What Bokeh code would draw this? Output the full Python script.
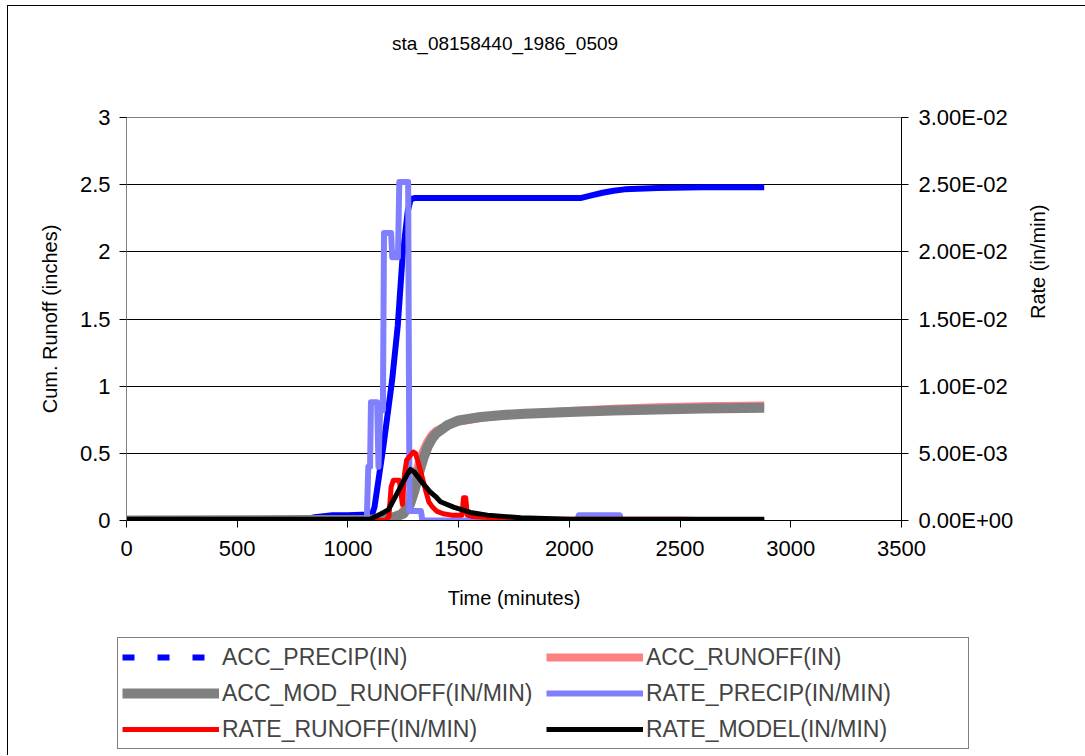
import math
from bokeh.plotting import figure
from bokeh.models import (Range1d, LinearAxis, FixedTicker, CustomJSTickFormatter,
                          Legend, LegendItem, Div)
from bokeh.embed import file_html
from bokeh.resources import INLINE

FONT = "Liberation Sans"

title_text = "sta_08158440_1986_0509"

# ---- axis ticks / labels ----
x_ticks = [0, 500, 1000, 1500, 2000, 2500, 3000, 3500]
left_ticks = [0, 0.5, 1, 1.5, 2, 2.5, 3]
left_labels = ["0", "0.5", "1", "1.5", "2", "2.5", "3"]
grid_ticks = [0.5, 1, 1.5, 2, 2.5]
right_ticks = [0, 0.005, 0.01, 0.015, 0.02, 0.025, 0.03]
right_labels = ["0.00E+00", "5.00E-03", "1.00E-02", "1.50E-02", "2.00E-02", "2.50E-02", "3.00E-02"]

# ---- series ----
t_acc_precip = [0, 400, 800, 850, 930, 1000, 1090, 1110, 1120, 1160, 1200, 1225, 1247,
                1270, 1283, 1300, 1500, 1800, 2050, 2100, 2150, 2200, 2250, 2400, 2600, 2880]
acc_precip = [0.0, 0.0, 0.005, 0.025, 0.04, 0.04, 0.045, 0.05, 0.1, 0.55, 1.05, 1.45, 1.97,
              2.3, 2.39, 2.40, 2.40, 2.40, 2.40, 2.42, 2.44, 2.455, 2.465, 2.475, 2.48, 2.48]

t_acc_runoff = [0, 1150, 1200, 1230, 1260, 1280, 1300, 1320, 1340, 1360, 1380, 1400, 1450,
                1500, 1600, 1700, 1800, 2000, 2200, 2400, 2600, 2880]
acc_runoff = [0.0, 0.0, 0.01, 0.03, 0.1, 0.2, 0.32, 0.43, 0.52, 0.59, 0.64, 0.67, 0.71,
              0.735, 0.765, 0.782, 0.795, 0.815, 0.832, 0.843, 0.851, 0.857]

t_acc_mod = [0, 1100, 1200, 1250, 1280, 1300, 1320, 1340, 1360, 1380, 1400, 1450, 1500,
             1600, 1700, 1800, 2000, 2200, 2400, 2600, 2880]
acc_mod_runoff = [0.0, 0.005, 0.02, 0.05, 0.12, 0.22, 0.35, 0.46, 0.55, 0.61, 0.65, 0.71, 0.745,
                  0.77, 0.785, 0.795, 0.808, 0.818, 0.826, 0.833, 0.84]

t_rate_precip = [0, 1085, 1092, 1100, 1104, 1132, 1138, 1145, 1158, 1163, 1195, 1200, 1226,
                 1232, 1272, 1278, 1330, 1336, 2038, 2042, 2228, 2232, 2880]
rate_precip = [0, 0, 0.004, 0.004, 0.0088, 0.0088, 0.004, 0.0082, 0.0082, 0.0214, 0.0214,
               0.0196, 0.0196, 0.0252, 0.0252, 0.0007, 0.0007, 0, 0, 0.0004, 0.0004, 0, 0]

t_rate_runoff = [0, 1170, 1185, 1195, 1205, 1232, 1246, 1256, 1265, 1280, 1295, 1305, 1318,
                 1328, 1350, 1365, 1382, 1400, 1430, 1470, 1515, 1522, 1532, 1539, 1560, 1650,
                 1750, 2000, 2500, 2880]
rate_runoff = [0, 0, 0.0003, 0.0025, 0.003, 0.003, 0.0012, 0.0035, 0.0045, 0.0048, 0.0051,
               0.005, 0.0043, 0.0037, 0.0023, 0.0014, 0.001, 0.0007, 0.0005, 0.0004, 0.0004,
               0.0017, 0.0017, 0.0004, 0.0003, 0.0002, 0.0001, 0.0001, 0.0001, 0.0]

t_rate_model = [0, 1100, 1125, 1150, 1183, 1215, 1247, 1270, 1283, 1300, 1337, 1373, 1395,
                1418, 1477, 1553, 1630, 1780, 2000, 2500, 2880]
rate_model = [0.0001, 0.0001, 0.0003, 0.0005, 0.0008, 0.0018, 0.0028, 0.0035, 0.0038, 0.0036,
              0.0028, 0.0021, 0.0018, 0.0014, 0.001, 0.0006, 0.0004, 0.0002, 0.0001, 0.0001,
              0.0001]

labels = ["ACC_PRECIP(IN)", "ACC_RUNOFF(IN)", "ACC_MOD_RUNOFF(IN/MIN)",
          "RATE_PRECIP(IN/MIN)", "RATE_RUNOFF(IN/MIN)", "RATE_MODEL(IN/MIN)"]
colors = ["#0000FF", "#FF8080", "#808080", "#8080FF", "#FF0000", "#000000"]
widths = [6, 8, 10, 6, 5, 5]

series = [(t_acc_precip, acc_precip, "default"),
          (t_acc_runoff, acc_runoff, "default"),
          (t_acc_mod, acc_mod_runoff, "default"),
          (t_rate_precip, rate_precip, "rate"),
          (t_rate_runoff, rate_runoff, "rate"),
          (t_rate_model, rate_model, "rate")]

# ---- title block ----
title_div = Div(
    text=('<div style="padding-top:24px;padding-left:384px;font-family:\'Liberation Sans\';'
          'font-size:19px;color:black;white-space:nowrap;">' + title_text + '</div>'),
    width=1078, height=92, margin=(5, 0, 0, 7),
    styles={"border-left": "1px solid black", "border-top": "1px solid black",
            "background-color": "white"})

# ---- main figure ----
p = figure(width=1078, height=532, output_backend="svg", toolbar_location=None,
           x_range=Range1d(0, 3500), y_range=Range1d(0, 3),
           min_border_left=118, min_border_right=185, min_border_top=20,
           min_border_bottom=109, margin=(0, 0, 0, 7))
p.styles = {"border-left": "1px solid black"}
p.extra_y_ranges = {"rate": Range1d(0, 0.03)}

p.outline_line_color = "#808080"
p.outline_line_width = 1
p.background_fill_color = "white"
p.border_fill_color = "white"

p.xgrid.visible = False
p.ygrid.ticker = FixedTicker(ticks=grid_ticks)
p.ygrid.grid_line_color = "black"
p.ygrid.grid_line_width = 1

fmt_js = """
for (let i = 0; i < vals.length; i++) {
  if (Math.abs(vals[i] - tick) < 1e-9) return labs[i];
}
return "";
"""

xa = p.xaxis[0]
xa.ticker = FixedTicker(ticks=x_ticks)
xa.axis_label = "Time (minutes)"

ya = p.yaxis[0]
ya.ticker = FixedTicker(ticks=left_ticks)
ya.formatter = CustomJSTickFormatter(args=dict(vals=left_ticks, labs=left_labels), code=fmt_js)
ya.axis_label = "Cum. Runoff (inches)"
ya.axis_line_color = "#808080"

ra = LinearAxis(y_range_name="rate", axis_label="Rate (in/min)",
                ticker=FixedTicker(ticks=right_ticks),
                formatter=CustomJSTickFormatter(args=dict(vals=right_ticks, labs=right_labels),
                                                code=fmt_js))
p.add_layout(ra, "right")

for ax in [xa, ya, ra]:
    ax.major_label_text_font = FONT
    ax.major_label_text_font_size = "22px"
    ax.axis_label_text_font = FONT
    ax.axis_label_text_font_size = "20px"
    ax.axis_label_text_font_style = "normal"
    ax.major_tick_out = 7
    ax.major_tick_in = 0
    ax.minor_tick_out = 0
    ax.minor_tick_in = 0
    ax.major_tick_line_color = "black"
    ax.major_label_text_color = "black"
    ax.axis_label_text_color = "black"

xa.major_label_standoff = 13
xa.axis_label_standoff = 28
ya.major_label_standoff = 9
ya.axis_label_standoff = 16
ra.major_label_standoff = 10
ra.axis_label_standoff = 22
ra.axis_label_orientation = math.pi / 2
ra.axis_label_text_align = "center"
ra.axis_label_text_baseline = "middle"

for i, (tx, vy, rng) in enumerate(series):
    p.line(tx, vy, color=colors[i], line_width=widths[i], line_join="round",
           y_range_name=rng)

# ---- legend strip (separate root below the chart) ----
# Its ranges lie outside the data, so only the legend symbols show.
q = figure(width=1078, height=126, output_backend="svg", toolbar_location=None,
           x_range=Range1d(-2, -1), y_range=Range1d(-2, -1),
           x_axis_location=None, y_axis_location=None,
           min_border_left=0, min_border_right=0, min_border_top=0, min_border_bottom=0,
           margin=(0, 0, 0, 7))
q.styles = {"border-left": "1px solid black"}
q.xgrid.visible = False
q.ygrid.visible = False
q.outline_line_color = None
q.border_fill_color = "white"
q.background_fill_color = "white"

items = []
for i, (tx, vy, rng) in enumerate(series):
    dash = "12 23" if i == 0 else "solid"
    r = q.line(tx, vy, color=colors[i], line_width=widths[i], line_dash=dash)
    items.append(LegendItem(label=labels[i], renderers=[r]))

legend = Legend(items=items, location=(109, 6), orientation="horizontal", ncols=2,
                border_line_color="black", border_line_width=1,
                background_fill_color="white", background_fill_alpha=1,
                label_text_font=FONT, label_text_font_size="23px",
                glyph_width=97, glyph_height=30, label_height=30, label_width=318,
                label_standoff=3, spacing=6, padding=4, margin=0)
q.add_layout(legend, "center")

open("out.html", "w").write(file_html([title_div, p, q], INLINE))
